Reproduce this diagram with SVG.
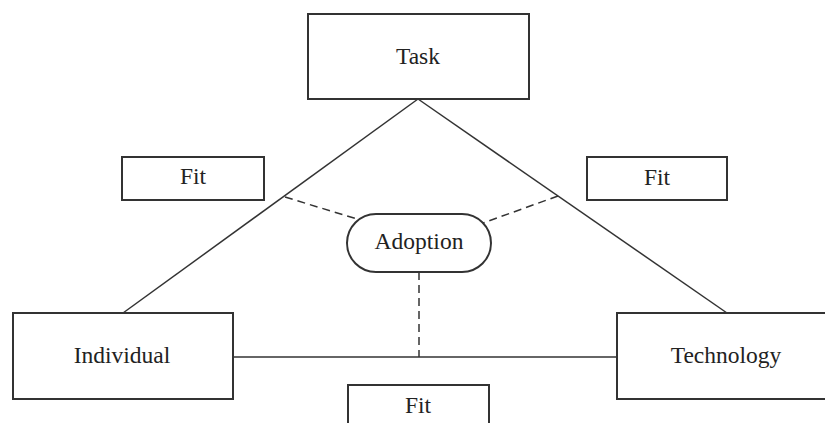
<svg xmlns="http://www.w3.org/2000/svg" width="825" height="423" viewBox="0 0 825 423">
<style>
.box{fill:#fff;stroke:#333;stroke-width:2}
.ln{stroke:#333;stroke-width:1.5;fill:none}
.dash{stroke:#333;stroke-width:1.5;fill:none;stroke-dasharray:8,5}
text{font-family:"Liberation Serif","Times New Roman",serif;font-size:23.5px;fill:#222;text-anchor:middle}
</style>
<rect width="825" height="423" fill="#fff"/>
<g id="connectors">
<line class="ln" x1="418" y1="99" x2="123" y2="313"/>
<line class="ln" x1="418" y1="99" x2="727" y2="313"/>
<line class="ln" x1="233" y1="357" x2="617" y2="357"/>
<line class="dash" x1="285" y1="197" x2="357" y2="219"/>
<line class="dash" x1="558" y1="196" x2="483" y2="223"/>
<line class="dash" x1="419" y1="272" x2="419" y2="357"/>
</g>
<g id="task"><rect class="box" x="308" y="14" width="221" height="85"/><text x="418" y="64">Task</text></g>
<g id="fit-left"><rect class="box" x="122" y="157" width="142" height="43"/><text x="193" y="184">Fit</text></g>
<g id="fit-right"><rect class="box" x="587" y="157" width="140" height="43"/><text x="657" y="185">Fit</text></g>
<g id="adoption"><rect class="box" x="347" y="214" width="144" height="58" rx="29" ry="29"/><text x="419" y="249">Adoption</text></g>
<g id="individual"><rect class="box" x="13" y="313" width="220" height="86"/><text x="122" y="363">Individual</text></g>
<g id="technology"><rect class="box" x="617" y="313" width="220" height="86"/><text x="726" y="363">Technology</text></g>
<g id="fit-bottom"><rect class="box" x="348" y="385" width="141" height="50"/><text x="418" y="413">Fit</text></g>
</svg>
